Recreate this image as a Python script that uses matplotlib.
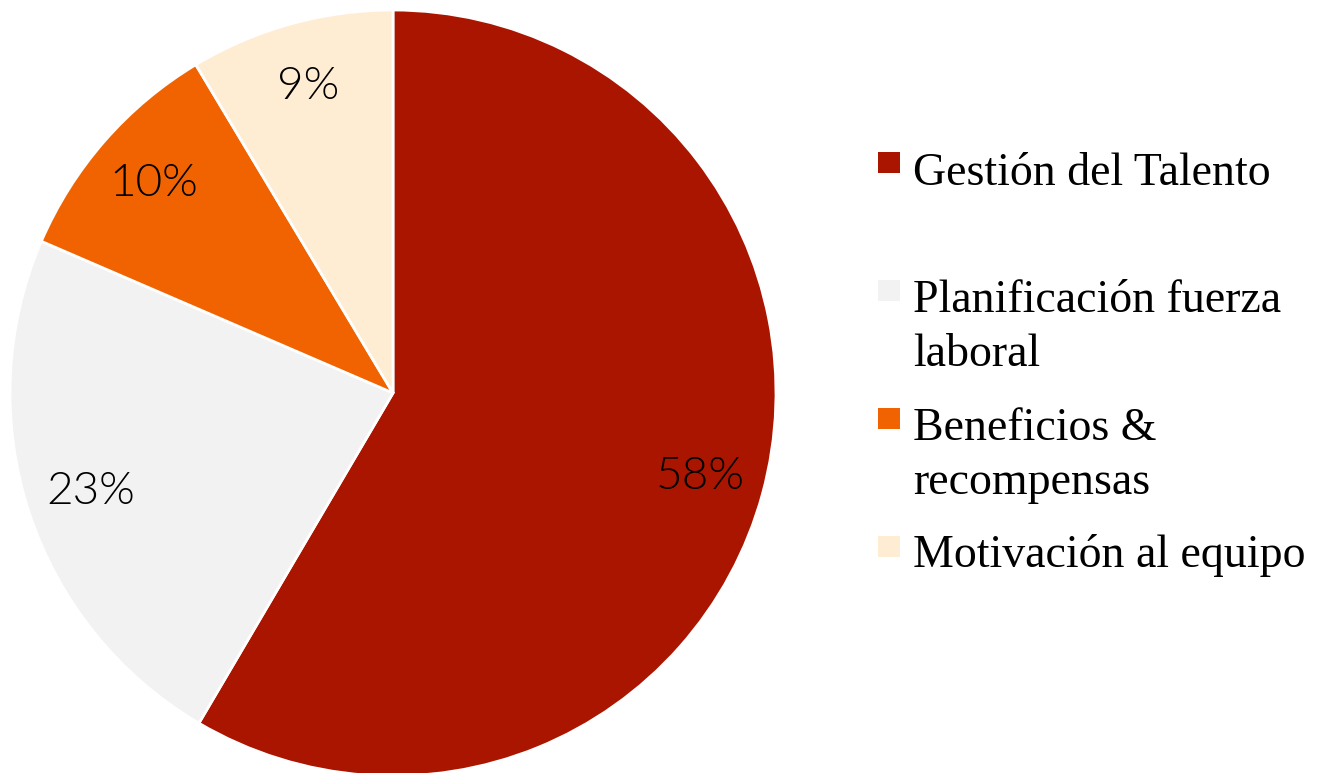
import matplotlib.pyplot as plt
from matplotlib.patches import Rectangle

labels = ["Gestión del Talento", "Planificación fuerza\nlaboral",
          "Beneficios &\nrecompensas", "Motivación al equipo"]
values = [58.4, 23.0, 9.9, 8.6]
colors = ["#AA1500", "#F2F2F2", "#F06300", "#FFEDD3"]

W, H = 1319, 773
fig = plt.figure(figsize=(W / 100, H / 100), dpi=100)

# pie placed in pixel terms: centre ~(393, 393), radius ~383
cx, cy, r = 393, 393, 383
ax = fig.add_axes([(cx - r) / W, (H - cy - r) / H, 2 * r / W, 2 * r / H])
wedges, texts, autotexts = ax.pie(
    values, colors=colors, startangle=90, counterclock=False,
    autopct="%1.0f%%", pctdistance=0.83, radius=1.0,
    wedgeprops=dict(edgecolor="white", linewidth=2),
    textprops=dict(fontsize=33, family="Lato", fontweight=300,
                   color="black"))
ax.set_xlim(-1, 1)
ax.set_ylim(-1, 1)
ax.set_aspect("equal")

# legend drawn by hand (uneven spacing in the original)
line_h = 54
baselines = [185, 312, 440, 567]
box_tops = [152, 280, 408, 536]
for lab, col, base, top in zip(labels, colors, baselines, box_tops):
    fig.patches.append(Rectangle((878 / W, 1 - (top + 21) / H), 22 / W, 21 / H,
                                 transform=fig.transFigure, facecolor=col,
                                 edgecolor="none"))
    for i, line in enumerate(lab.split("\n")):
        fig.text(913 / W, 1 - (base + i * line_h) / H, line, fontsize=33,
                 family="Liberation Serif", va="baseline", ha="left")

fig.savefig("out.png", dpi=100)
